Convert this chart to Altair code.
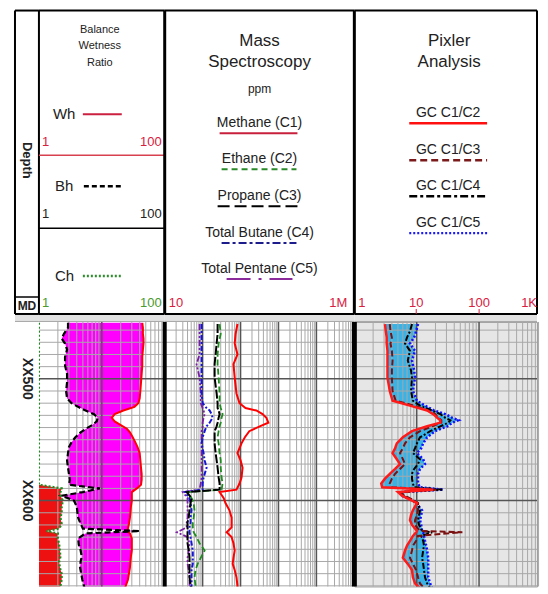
import altair as alt
import pandas as pd

FONT = "Liberation Sans"
NARROW = "Liberation Sans Narrow, Liberation Sans"

depth_label_text = ["XX500", "XX600"]
depth_label_depth = [500, 600]

# Track 1: Balance / Wetness / Character ratios
t1_depth = [454, 458, 463, 467, 471, 476, 482, 489, 496, 503,
            510, 516, 520, 523, 526, 529, 532, 535, 538, 541,
            544, 548, 552, 556, 561, 567, 573, 578, 583, 587,
            590, 593, 596, 600, 605, 610, 614, 619, 623, 625,
            627, 631, 636, 641, 646, 650, 655, 660, 665, 670, 676]
t1_wh = [44, 45, 45, 46, 46, 45, 44, 44, 43, 42,
         41, 40, 38, 33, 22, 16, 14.4, 16, 20, 25,
         28, 31, 34, 37, 40, 41, 42, 43, 43, 42,
         36, 30, 30, 30, 29, 28.5, 28, 27, 26, 26,
         28, 30, 30, 30, 29, 28.5, 28, 27, 26, 24, 23]
t1_bh = [2.9, 2.9, 2.5, 2.3, 2.6, 2.8, 2.6, 2.6, 2.8, 2.8,
         2.7, 2.8, 3.3, 4.2, 5.5, 7.5, 8.6, 8.3, 7.0, 5.6,
         4.6, 3.8, 3.3, 3.0, 2.9, 2.8, 2.9, 3.0, 3.1, 3.0,
         9.3, 5.0, 2.3, 3.6, 4.0, 4.1, 4.2, 4.6, 5.0, 40,
         5.5, 4.2, 4.3, 4.6, 4.8, 4.6, 4.5, 4.7, 4.9, 5.2, 5.4]
t1_ch = [1.0, 1.0, 1.0, 1.0, 1.0, 1.0, 1.0, 1.0, 1.0, 1.0,
         1.0, 1.0, 1.0, 1.0, 1.0, 1.0, 1.0, 1.0, 1.0, 1.0,
         1.0, 1.0, 1.0, 1.0, 1.0, 1.0, 1.0, 1.0, 1.0, 1.0,
         2.3, 2.2, 2.2, 2.4, 2.3, 2.3, 2.2, 2.3, 2.1, 1.3,
         2.0, 2.0, 2.1, 2.15, 2.2, 2.1, 2.15, 2.3, 2.3, 2.2, 2.15]

# Track 2: Mass spectroscopy, ppm
t2_depth = [455, 463, 471, 480, 488, 499, 512, 520, 524, 526,
            529, 532, 536, 539, 543, 548, 553, 561, 567, 573,
            581, 586, 591, 593, 598, 602, 608, 614, 618, 622,
            626, 630, 635, 641, 647, 652, 657, 663, 670, 676]
t2_c1 = [830, 740, 700, 830, 650, 700, 780, 940, 1350, 2600,
         3800, 4800, 5400, 3200, 1700, 1300, 1060, 830, 1000, 1130,
         1060, 940, 780, 280, 360, 400, 510, 580, 580, 580,
         430, 580, 650, 700, 650, 620, 700, 780, 830, 830]
t2_c2 = [280, 300, 264, 248, 248, 264, 280, 280, 300, 316,
         336, 316, 300, 280, 264, 248, 264, 280, 300, 300,
         316, 336, 316, 40, 51, 58, 61, 58, 55, 55,
         58, 69, 83, 113, 89, 74, 65, 61, 65, 69]
t2_c3 = [248, 248, 234, 220, 207, 207, 234, 248, 248, 264,
         280, 264, 248, 234, 207, 207, 207, 220, 234, 248,
         264, 280, 280, 38, 51, 48, 45, 43, 40, 40,
         40, 40, 40, 43, 45, 45, 45, 45, 48, 51]
t2_c4 = [94, 94, 94, 94, 94, 94, 94, 100, 127, 153,
         172, 183, 153, 127, 113, 100, 94, 106, 113, 127,
         106, 100, 100, 34, 45, 48, 51, 48, 48, 45,
         45, 48, 51, 55, 55, 55, 51, 51, 51, 51]
t2_c5 = [83, 83, 83, 83, 69, 83, 89, 89, 100, 106,
         113, 106, 100, 100, 94, 94, 94, 94, 94, 94,
         94, 89, 83, 30, 40, 40, 40, 40, 38, 38,
         21, 40, 45, 43, 40, 40, 43, 45, 45, 45]

# Track 3: Pixler ratios
t3_depth = [455, 461, 466, 471, 477, 485, 493, 499, 510, 518,
            522, 526, 529, 532, 534, 536, 539, 543, 548, 553,
            557, 561, 566, 570, 574, 578, 582, 586, 589, 591,
            593, 596, 600, 602, 608, 612, 616, 620, 625, 626,
            629, 633, 637, 641, 647, 652, 657, 663, 668, 672, 676]
t3_c1c2 = [3.1, 3.2, 3.3, 3.3, 3.4, 3.4, 3.4, 3.4, 3.7, 4.1,
           7.8, 14.7, 18.4, 21.4, 23.9, 23.9, 14.7, 8.4, 6.0, 4.8,
           4.5, 4.1, 4.8, 5.4, 4.5, 3.7, 3.1, 2.7, 2.8, 18.4,
           5.0, 5.8, 8.4, 10.1, 8.7, 8.1, 7.8, 8.4, 10.1, 9.8,
           8.7, 7.8, 7.0, 6.5, 6.0, 7.2, 8.4, 8.7, 9.4, 11.3, 15.3]
t3_c1c3 = [3.7, 3.8, 4.0, 3.8, 4.0, 4.1, 4.0, 4.0, 4.1, 4.6,
           9.1, 15.3, 19.8, 22.2, 24.8, 24.8, 17.7, 11.3, 7.8, 6.5,
           6.0, 5.4, 6.0, 6.5, 5.4, 4.5, 4.0, 3.7, 4.0, 20.6,
           5.4, 6.5, 9.1, 10.5, 10.5, 10.1, 9.4, 9.4, 11.3, 54,
           10.5, 9.8, 8.7, 8.4, 7.8, 8.7, 9.8, 10.5, 11.3, 13.1, 16.5]
t3_c1c4 = [8.4, 7.8, 7.0, 6.5, 7.8, 7.2, 8.1, 8.4, 8.1, 8.7,
           11.3, 17.7, 23.9, 28.8, 34.7, 32.2, 23.9, 16.5, 11.3, 10.1,
           9.4, 8.7, 11.3, 10.5, 9.1, 8.4, 8.4, 8.7, 9.1, 25.7,
           5.8, 6.0, 8.4, 10.5, 11.3, 10.9, 10.5, 10.9, 12.2, 17.7,
           11.8, 12.7, 13.1, 12.7, 12.2, 12.7, 13.1, 13.6, 14.7, 16.5, 18.4]
t3_c1c5 = [10.5, 9.8, 9.1, 7.8, 9.4, 8.4, 9.1, 9.4, 8.7, 10.1,
           13.6, 19.1, 28.8, 37.4, 46.8, 37.4, 31.0, 19.8, 14.7, 12.7,
           11.8, 10.1, 12.7, 13.6, 11.3, 10.5, 10.5, 10.5, 11.3, 26.7,
           5.8, 5.8, 8.7, 9.8, 12.2, 11.8, 11.3, 11.8, 12.2, 12.7,
           13.1, 13.6, 14.2, 14.7, 15.3, 15.3, 15.3, 15.3, 16.5, 17.7, 19.8]

# header texts
depth_header = ["Depth", "MD"]
bwr_title = ["Balance", "Wetness", "Ratio"]
bwr_curves = ["Wh", "Bh", "Ch"]
bwr_scale = ["1", "100"]
ms_title = ["Mass", "Spectroscopy"]
ms_unit = "ppm"
ms_labels = ["Methane (C1)", "Ethane (C2)", "Propane (C3)", "Total Butane (C4)", "Total Pentane (C5)"]
ms_scale = ["10", "1M"]
px_title = ["Pixler", "Analysis"]
px_labels = ["GC C1/C2", "GC C1/C3", "GC C1/C4", "GC C1/C5"]
px_scale = ["1", "10", "100", "1K"]

# grid values
grid_depth_minor = [460, 470, 480, 490, 510, 520, 530, 540, 550, 560, 570, 580, 590,
                    610, 620, 630, 640, 650, 660, 670]
grid_depth_major = [500, 600]
t1_grid_minor = [m * 10 ** e for e in range(0, 2) for m in range(2, 10)]
t1_grid_major = [10]
t2_grid_minor = [m * 10 ** e for e in range(1, 6) for m in range(2, 10)]
t2_grid_major = [100, 1000, 10000, 100000]
t3_grid_minor = [m * 10 ** e for e in range(0, 3) for m in range(2, 10)]
t3_grid_major = [10, 100]

# ---------------- layout / style ----------------
W_D, W1, W2, W3 = 24, 126, 190, 183
H_HEAD, H_BAND, H_DATA = 304, 8, 265
H_TOP = H_HEAD + H_BAND
D_TOP = 453.3
D_BOT = D_TOP + H_DATA / 1.22
DOM1 = [1, 100]
DOM2 = [10, 1000000]
DOM3 = [1, 850]

TXT = "#222222"
RED_LBL = "#d8203f"
GRN_LBL = "#4a9a30"
GRID_MINOR = "#a8a8a8"
GRID_MAJOR = "#555555"
BAND = "#e2e2e2"

dummy = pd.DataFrame({"k": [0]})


def txt(s, x, y, size=12, color=TXT, align="center", bold=False, angle=0, font=FONT):
    kw = dict(text=s, align=align, baseline="middle", fontSize=size, color=color,
              fontWeight="bold" if bold else "normal", font=font)
    if angle:
        kw["angle"] = angle
    return alt.Chart(dummy).mark_text(**kw).encode(x=alt.value(x), y=alt.value(y))


def hline(x1, x2, y, color, width=2.0, dash=None):
    kw = dict(color=color, strokeWidth=width)
    if dash:
        kw["strokeDash"] = dash
    return alt.Chart(dummy).mark_rule(**kw).encode(x=alt.value(x1), x2=alt.value(x2), y=alt.value(y))


def vline(x, y1, y2, color, width=2.0):
    return alt.Chart(dummy).mark_rule(color=color, strokeWidth=width).encode(
        x=alt.value(x), y=alt.value(y1), y2=alt.value(y2))


def frame(w, left_w=2, right=False):
    out = [
        alt.Chart(dummy).mark_rect(color=BAND).encode(
            x=alt.value(0), x2=alt.value(w), y=alt.value(H_HEAD), y2=alt.value(H_TOP)),
        hline(0, w, H_TOP - 0.5, "#a8a8a8", 1),
        hline(0, w, 0, "black", 2),
        hline(0, w, H_HEAD, "black", 2),
        vline(0, 0, H_HEAD, "black", left_w),
    ]
    if right:
        out.append(vline(w, 0, H_HEAD, "black", 2))
    return out


# ---------------- header row ----------------
depth_head = alt.layer(
    *frame(W_D),
    txt(depth_header[0], 12, 150, size=13, bold=True, angle=90),
    hline(0, W_D, 287, "black", 1.5),
    txt(depth_header[1], 12, 296, size=12, bold=True),
).properties(width=W_D, height=H_TOP)

t1_layers = frame(W1)
t1_layers += [txt(s, 61, 19 + 17 * i, size=11, font=NARROW) for i, s in enumerate(bwr_title)]
t1_layers += [
    txt(bwr_curves[0], 14, 104, size=15, align="left"), hline(44, 83, 104, "#cc2040", 2),
    txt(bwr_scale[0], 3, 132, size=13, color=RED_LBL, align="left"),
    txt(bwr_scale[1], 123, 132, size=13, color=RED_LBL, align="right"),
    hline(0, W1, 145, "#d84050", 1.5),
    txt(bwr_curves[1], 16, 176, size=15, align="left"), hline(45, 82, 176, "black", 2.5, [5, 3]),
    txt(bwr_scale[0], 3, 204, size=13, align="left"),
    txt(bwr_scale[1], 123, 204, size=13, align="right"),
    hline(0, W1, 218, "black", 1.5),
    txt(bwr_curves[2], 16, 266, size=15, align="left"), hline(44, 82, 266, "#2e8b2e", 2.5, [2, 2]),
    txt(bwr_scale[0], 3, 293, size=13, color=GRN_LBL, align="left"),
    txt(bwr_scale[1], 123, 293, size=13, color=GRN_LBL, align="right"),
]
t1_head = alt.layer(*t1_layers).properties(width=W1, height=H_TOP)

ms_y = [113, 149, 186, 223, 259]
ms_line_x = [(55, 133), (57, 132), (53, 135), (57, 132), (62, 128)]
ms_style = [("#c8203c", None), ("#2a8a2a", [6, 4]), ("black", [12, 5]),
            ("#1c1c8c", [8, 3, 3, 3]), ("#8b2a9b", [24, 8, 3, 8])]
t2_layers = frame(W2, left_w=3)
t2_layers += [txt(ms_title[0], 95, 31, size=17), txt(ms_title[1], 95, 52, size=17),
              txt(ms_unit, 95, 79, size=12)]
for i, s in enumerate(ms_labels):
    t2_layers.append(txt(s, 95, ms_y[i], size=14))
    c, d = ms_style[i]
    t2_layers.append(hline(ms_line_x[i][0], ms_line_x[i][1], ms_y[i] + 10, c, 2, d))
t2_layers += [txt(ms_scale[0], 4, 293, size=13, color=RED_LBL, align="left"),
              txt(ms_scale[1], 183, 293, size=13, color=RED_LBL, align="right")]
t2_head = alt.layer(*t2_layers).properties(width=W2, height=H_TOP)

px_y = [103, 140, 176, 213]
px_style = [("#ff1010", None), ("#7a1a1a", [7, 4]), ("black", [8, 3, 3, 3]), ("#1a1aff", [2, 2])]
t3_layers = frame(W3, left_w=3, right=True)
t3_layers += [txt(px_title[0], 95, 31, size=17), txt(px_title[1], 95, 52, size=17)]
for i, s in enumerate(px_labels):
    t3_layers.append(txt(s, 94, px_y[i], size=14))
    c, d = px_style[i]
    t3_layers.append(hline(55, 133, px_y[i] + 10, c, 2.5, d))
px_x = [(4, "left"), (62, "center"), (125, "center"), (183, "right")]
for s, (xx, al) in zip(px_scale, px_x):
    t3_layers.append(txt(s, xx, 293, size=13, color=RED_LBL, align=al))
t3_layers += [vline(62, 299, H_HEAD, RED_LBL, 1), vline(125, 299, H_HEAD, RED_LBL, 1)]
t3_head = alt.layer(*t3_layers).properties(width=W3, height=H_TOP)


# ---------------- data row ----------------
def Y():
    return alt.Y("depth:Q", scale=alt.Scale(domain=[D_TOP, D_BOT], reverse=True, nice=False, zero=False),
                 axis=None)


def X(field, dom):
    return alt.X(f"{field}:Q", scale=alt.Scale(type="log", domain=dom, nice=False), axis=None)


def grid(dom, minor, major):
    return [
        alt.Chart(pd.DataFrame({"v": minor})).mark_rule(color=GRID_MINOR, strokeWidth=1).encode(x=X("v", dom)),
        alt.Chart(pd.DataFrame({"depth": grid_depth_minor})).mark_rule(color=GRID_MINOR, strokeWidth=1).encode(y=Y()),
        alt.Chart(pd.DataFrame({"v": major})).mark_rule(color=GRID_MAJOR, strokeWidth=1.5).encode(x=X("v", dom)),
        alt.Chart(pd.DataFrame({"depth": grid_depth_major})).mark_rule(color=GRID_MAJOR, strokeWidth=1.5).encode(y=Y()),
    ]


def curve(df, field, dom, color, width, dash=None):
    kw = dict(color=color, strokeWidth=width, clip=True)
    if dash:
        kw["strokeDash"] = dash
    return alt.Chart(df).mark_line(**kw).encode(x=X(field, dom), y=Y(), order="depth:Q")


# depth column
df_lbl = pd.DataFrame({"depth": depth_label_depth, "label": depth_label_text})
depth_data = alt.Chart(df_lbl).mark_text(angle=90, fontWeight="bold", fontSize=14, font=FONT,
                                         color=TXT, align="center", baseline="middle").encode(
    y=Y(), x=alt.value(12), text="label:N"
).properties(width=W_D, height=H_DATA)

# track 1
df1 = pd.DataFrame({"depth": t1_depth, "wh": t1_wh, "bh": t1_bh, "ch": t1_ch})
t1_data = alt.layer(
    alt.Chart(df1).mark_area(orient="horizontal", color="#ff00ff", opacity=1, clip=True).encode(
        y=Y(), x=X("bh", DOM1), x2="wh:Q"),
    alt.Chart(df1).mark_area(orient="horizontal", color="#ee1111", opacity=1, clip=True).encode(
        y=Y(), x=X("ch", DOM1), x2=alt.datum(1)),
    *grid(DOM1, t1_grid_minor, t1_grid_major),
    curve(df1, "wh", DOM1, "#ff0000", 2),
    curve(df1, "bh", DOM1, "black", 2.2, [6, 3]),
    curve(df1, "ch", DOM1, "#1f8a1f", 2.2, [2, 2]),
).properties(width=W1, height=H_DATA, view=alt.ViewBackground(fill="white", stroke=None))

# track 2
df2 = pd.DataFrame({"depth": t2_depth, "c1": t2_c1, "c2": t2_c2, "c3": t2_c3, "c4": t2_c4, "c5": t2_c5})
t2_data = alt.layer(
    *grid(DOM2, t2_grid_minor, t2_grid_major),
    curve(df2, "c5", DOM2, "#7a1fa2", 1.8, [6, 2, 2, 2, 2, 2]),
    curve(df2, "c4", DOM2, "#1515d8", 2, [5, 2, 2, 2]),
    curve(df2, "c2", DOM2, "#1e8c1e", 1.8, [6, 3]),
    curve(df2, "c3", DOM2, "black", 2, [9, 2]),
    curve(df2, "c1", DOM2, "#ff0000", 2),
    vline(0, 0, H_DATA, "black", 4),
).properties(width=W2, height=H_DATA, view=alt.ViewBackground(fill="white", stroke=None))

# track 3
df3 = pd.DataFrame({"depth": t3_depth, "c12": t3_c1c2, "c13": t3_c1c3, "c14": t3_c1c4, "c15": t3_c1c5})
t3_data = alt.layer(
    alt.Chart(df3).mark_area(orient="horizontal", color="#39b3e6", opacity=1, clip=True).encode(
        y=Y(), x=X("c12", DOM3), x2="c15:Q"),
    *grid(DOM3, t3_grid_minor, t3_grid_major),
    curve(df3, "c15", DOM3, "#1010ff", 2.5, [2, 2]),
    curve(df3, "c14", DOM3, "black", 2, [6, 2, 2, 2]),
    curve(df3, "c13", DOM3, "#7a1010", 2, [6, 3]),
    curve(df3, "c12", DOM3, "#ff1a1a", 2.5),
    vline(0, 0, H_DATA, "black", 5),
).properties(width=W3, height=H_DATA,
             view=alt.ViewBackground(fill="#e6e6e6", stroke="#a0a0a0", strokeWidth=1))

chart = alt.concat(
    depth_head, t1_head, t2_head, t3_head,
    depth_data, t1_data, t2_data, t3_data,
    columns=4, spacing=0, bounds="flush", align="each",
).properties(
    padding={"left": 6, "top": 0, "right": 0, "bottom": 0}
).configure(font=FONT).configure_view(stroke=None)

chart.save("out.html", embed_options={"renderer": "svg", "actions": False})
